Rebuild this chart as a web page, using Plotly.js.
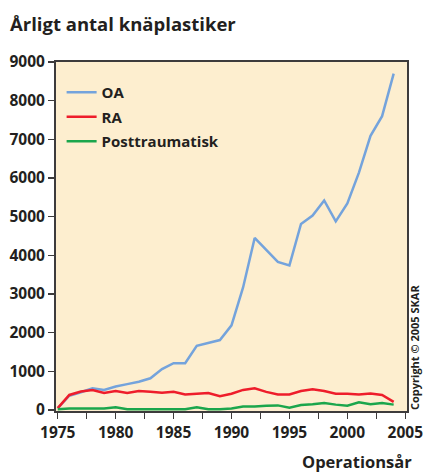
<!DOCTYPE html>
<html>
<head>
<meta charset="utf-8">
<script src="https://cdn.plot.ly/plotly-3.0.1.min.js"></script>
<style>html,body{margin:0;padding:0;background:#fff;}#chart{width:423px;height:472px;}</style>
</head>
<body>
<div id="chart"></div>
<script>
const years = [1975,1976,1977,1978,1979,1980,1981,1982,1983,1984,1985,1986,1987,1988,1989,1990,1991,1992,1993,1994,1995,1996,1997,1998,1999,2000,2001,2002,2003,2004];
const oa = [50,370,460,560,520,610,670,730,820,1060,1210,1210,1660,1730,1810,2190,3170,4450,4150,3830,3740,4810,5030,5420,4880,5340,6140,7090,7600,8700];
const ra = [50,390,480,520,440,490,440,490,470,450,470,400,420,440,360,420,520,560,470,400,400,490,540,490,420,420,400,430,390,210];
const post = [20,40,40,40,40,70,20,20,20,20,20,20,70,20,20,40,90,90,110,120,60,130,150,180,140,110,200,150,180,140];
const seriesNames = ['OA','RA','Posttraumatisk'];
const xTicks = [1975,1980,1985,1990,1995,2000,2005];
const yTicks = [0,1000,2000,3000,4000,5000,6000,7000,8000,9000];

const font = "'Open Sans', 'DejaVu Sans', sans-serif";
const ink = '#231f20';
const axisCol = '#3d3b3c';

const traces = [
  {x: years, y: oa, name: seriesNames[0], legendgroup: 'a', mode: 'lines', line: {color: '#74a3dc', width: 2.5}},
  {x: years, y: ra, name: seriesNames[1], legendgroup: 'b', mode: 'lines', line: {color: '#ee1d2b', width: 2.5}},
  {x: years, y: post, name: seriesNames[2], legendgroup: 'c', mode: 'lines', line: {color: '#1ba64c', width: 2.5}}
];

const layout = {
  width: 423, height: 472,
  margin: {l: 56, r: 16, t: 62, b: 61},
  paper_bgcolor: '#ffffff',
  plot_bgcolor: '#fdeecf',
  font: {family: font, color: ink, size: 15, weight: 'bold'},
  title: {text: 'Årligt antal knäplastiker', x: 10/423, xanchor: 'left', xref: 'container',
          y: 1 - 25/472, yanchor: 'middle', yref: 'container',
          font: {family: font, size: 18.5, color: ink, weight: 'bold'}},
  xaxis: {
    range: [1974.85, 2005.15], tickvals: xTicks, ticktext: xTicks.map(String),
    showgrid: false, zeroline: false, showline: true, linecolor: axisCol, linewidth: 2, mirror: true,
    ticks: 'outside', ticklen: 6, tickwidth: 1.5, tickcolor: axisCol, ticklabeloverflow: 'allow',
    minor: {dtick: 2.5, tick0: 1975, ticks: 'outside', ticklen: 6, tickwidth: 1.5, tickcolor: axisCol, showgrid: false},
    tickfont: {family: font, size: 15.5, color: ink, weight: 'bold'}
  },
  yaxis: {
    range: [-25, 9000], tickvals: yTicks, ticktext: yTicks.map(String),
    showgrid: false, zeroline: false, showline: true, linecolor: axisCol, linewidth: 2, mirror: true,
    ticks: 'outside', ticklen: 6, tickwidth: 1.5, tickcolor: axisCol,
    tickfont: {family: font, size: 15.5, color: ink, weight: 'bold'}
  },
  showlegend: true,
  legend: {x: 0.016, y: 0.96, xanchor: 'left', yanchor: 'top', bgcolor: 'rgba(0,0,0,0)',
           font: {family: font, size: 15, color: ink, weight: 'bold'}, itemwidth: 30, tracegroupgap: 2},
  annotations: [
    {text: 'Operationsår', xref: 'paper', yref: 'paper', x: (414-56)/351, y: -(461-411)/349,
     xanchor: 'right', yanchor: 'middle', showarrow: false,
     font: {family: font, size: 16.5, color: ink, weight: 'bold'}},
    {text: 'Copyright © 2005 SKAR', xref: 'paper', yref: 'paper', x: (414-56)/351, y: (411-348)/349,
     xanchor: 'center', yanchor: 'middle', textangle: -90, showarrow: false,
     font: {family: font, size: 11, color: ink, weight: 'bold'}}
  ]
};

Plotly.newPlot('chart', traces, layout, {displayModeBar: false, staticPlot: true});
</script>
</body>
</html>
